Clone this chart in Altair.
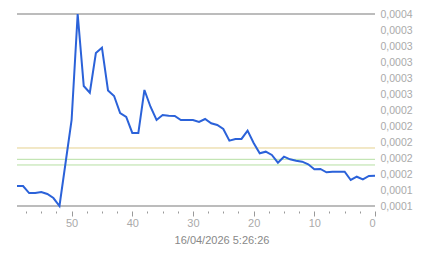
import altair as alt
import pandas as pd

# index (minutes ago) and values
idx = list(range(59, -1, -1))
values = [
    0.0001444, 0.0001444, 0.0001358, 0.0001358, 0.0001371, 0.0001346, 0.0001297, 0.00012,
    0.0001724, 0.0002248, 0.000354, 0.0002663, 0.0002581, 0.0003065, 0.0003129, 0.0002608,
    0.0002541, 0.0002333, 0.0002285, 0.000209, 0.000209, 0.0002614, 0.000241, 0.0002248,
    0.0002309, 0.00023, 0.0002297, 0.0002248, 0.0002248, 0.0002248, 0.0002224, 0.000226,
    0.0002208, 0.0002187, 0.0002138, 0.0001996, 0.0002017, 0.0002017, 0.0002118, 0.0001968,
    0.0001842, 0.0001862, 0.0001822, 0.0001728, 0.0001801, 0.0001769, 0.0001752, 0.000174,
    0.0001708, 0.0001647, 0.0001651, 0.0001611, 0.0001618, 0.0001618, 0.0001618, 0.0001517,
    0.0001557, 0.0001525, 0.0001566, 0.0001569,
]
ref_values = [0.0001907, 0.0001769, 0.00017]
ref_colors = ["#e5d18f", "#b6dfa3", "#b6dfa3"]
minmax_values = [0.00012, 0.000354]
y_ticks = [0.00012, 0.0001395, 0.000159, 0.0001785, 0.000198, 0.0002175, 0.000237,
           0.0002565, 0.000276, 0.0002955, 0.000315, 0.0003345, 0.000354]
x_ticks = [0, 2.5, 5, 7.5, 10, 12.5, 15, 17.5, 20, 22.5, 25, 27.5, 30, 32.5, 35, 37.5,
           40, 42.5, 45, 47.5, 50, 52.5, 55, 57.5]
title_text = "16/04/2026 5:26:26"

df = pd.DataFrame({"i": idx, "v": values})
df_ref = pd.DataFrame({"v": ref_values, "c": ref_colors})
df_mm = pd.DataFrame({"v": minmax_values})

font = "Liberation Sans"
xscale = alt.Scale(domain=[0, 59], reverse=True, nice=False, zero=False)
yscale = alt.Scale(domain=[0.00012, 0.000354], nice=False, zero=False)

xaxis = alt.Axis(
    values=x_ticks, domain=False, grid=False, offset=5, labelOverlap=False,
    tickColor="#999999", tickSize={"condition": {"test": "datum.value % 10 === 0", "value": 5}, "value": 2},
    labelExpr="datum.value % 10 === 0 ? format(datum.value, 'd') : ''",
    labelColor="#aaaaaa", labelFont=font, labelFontSize=11, labelPadding=1,
    title=title_text, titleColor="#888888", titleFont=font, titleFontSize=11,
    titleFontWeight="normal", titlePadding=6, titleX=204.5, titleAnchor="middle",
)
yaxis = alt.Axis(
    orient="right", values=y_ticks, domain=False, ticks=False, grid=False,
    labelOverlap=False, labelFlush=False, labelBound=False,
    labelExpr="replace(format(datum.value, '.4f'), '.', ',')",
    labelColor="#aaaaaa", labelFont=font, labelFontSize=10.5, labelPadding=5,
    title=None,
)

refs = alt.Chart(df_ref).mark_rule(strokeWidth=1).encode(
    y=alt.Y("v:Q", scale=yscale, axis=yaxis),
    color=alt.Color("c:N", scale=None),
)
mm = alt.Chart(df_mm).mark_rule(strokeWidth=1.2, color="#7a7a7a").encode(
    y=alt.Y("v:Q", scale=yscale, axis=yaxis),
)
line = alt.Chart(df).mark_line(color="#2b62d9", strokeWidth=2).encode(
    x=alt.X("i:Q", scale=xscale, axis=xaxis),
    y=alt.Y("v:Q", scale=yscale, axis=yaxis),
)

chart = alt.layer(refs, mm, line).properties(
    width=358, height=192,
    autosize=alt.AutoSizeParams(type="none"),
    padding={"left": 17, "top": 14, "right": 68, "bottom": 52},
    background="white",
).configure_view(stroke=None)

chart.save("out.html", embed_options={"renderer": "svg", "actions": False})
